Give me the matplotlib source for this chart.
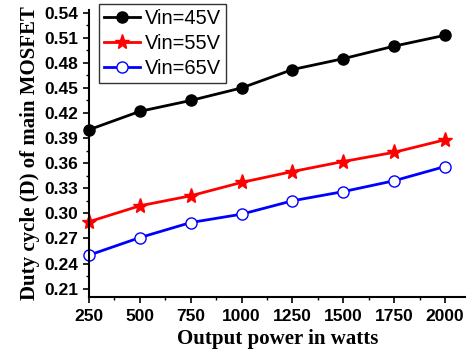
import matplotlib
matplotlib.use("Agg")
import matplotlib.pyplot as plt
from matplotlib.ticker import MultipleLocator

power = [250, 500, 750, 1000, 1250, 1500, 1750, 2000]
d_45 = [0.400, 0.422, 0.435, 0.450, 0.472, 0.485, 0.500, 0.513]
d_55 = [0.290, 0.309, 0.321, 0.337, 0.350, 0.362, 0.373, 0.388]
d_65 = [0.250, 0.271, 0.289, 0.299, 0.315, 0.326, 0.339, 0.356]
labels = ["Vin=45V", "Vin=55V", "Vin=65V"]

fig = plt.figure(figsize=(4.66, 3.51), dpi=100)
ax = fig.add_axes([0.191, 0.154, 0.809, 0.817])

ax.plot(power, d_45, color="black", lw=2, marker="o", ms=8, mfc="black", mec="black", label=labels[0], clip_on=False)
ax.plot(power, d_55, color="red", lw=2, marker="*", ms=11, mfc="red", mec="red", label=labels[1], clip_on=False)
ax.plot(power, d_65, color="blue", lw=2, marker="o", ms=8, mfc="white", mec="blue", label=labels[2], clip_on=False)

ax.set_xlim(250, 2103)
ax.set_ylim(0.20, 0.543)
ax.set_xticks(power)
ax.set_yticks([0.21, 0.24, 0.27, 0.30, 0.33, 0.36, 0.39, 0.42, 0.45, 0.48, 0.51, 0.54])
ax.xaxis.set_minor_locator(MultipleLocator(125))
ax.yaxis.set_minor_locator(MultipleLocator(0.015))
ax.spines["top"].set_visible(False)
ax.spines["right"].set_visible(False)
for s in ["left", "bottom"]:
    ax.spines[s].set_linewidth(1.5)
ax.tick_params(which="major", direction="out", length=4, width=1.2)
ax.tick_params(which="minor", direction="out", length=2.5, width=1.0)
ax.tick_params(axis="x", which="major", pad=5)
for lab in ax.get_xticklabels() + ax.get_yticklabels():
    lab.set_fontfamily("Liberation Sans")
    lab.set_fontweight("bold")
    lab.set_fontsize(12.5)

ax.set_xlabel("Output power in watts", fontfamily="Liberation Serif", fontweight="bold", fontsize=15, labelpad=3)
ax.set_ylabel("Duty cycle (D) of main MOSFET", fontfamily="Liberation Serif", fontweight="bold", fontsize=15, labelpad=3)

leg = ax.legend(loc="upper left", bbox_to_anchor=(0.027, 1.022), frameon=True, fancybox=False,
                edgecolor="black", prop={"family": "Liberation Sans", "size": 14.5},
                handlelength=1.8, handletextpad=0.2, borderpad=0.25, labelspacing=0.3, borderaxespad=0.0)
leg.get_frame().set_linewidth(1.0)

fig.savefig("out.png", dpi=100)
